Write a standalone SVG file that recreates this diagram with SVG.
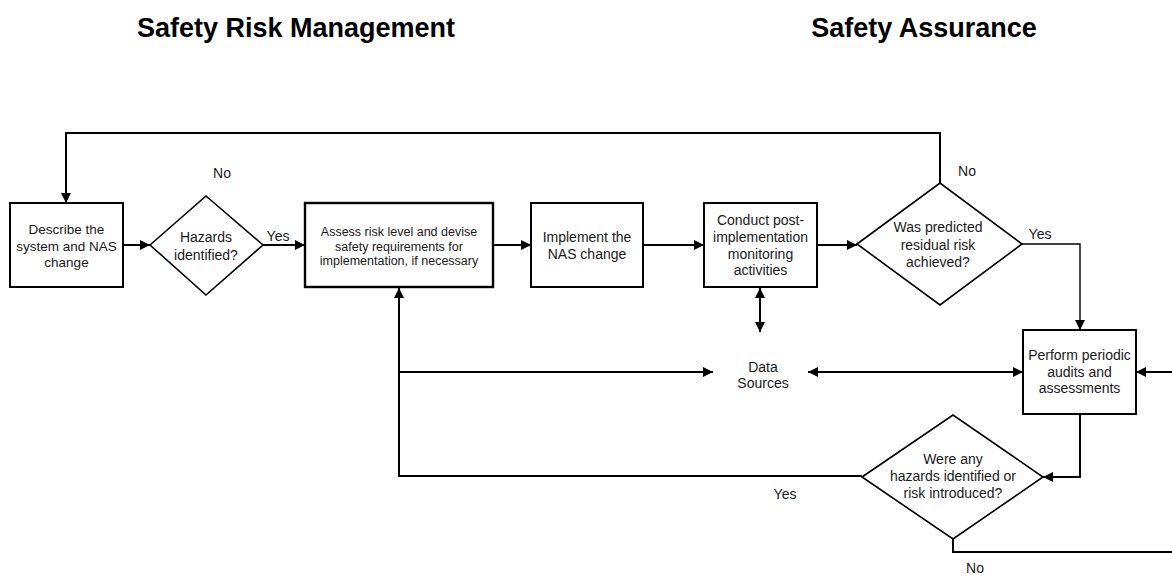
<svg xmlns="http://www.w3.org/2000/svg" width="1172" height="576" viewBox="0 0 1172 576">
<style>
.box{fill:#fff;stroke:#000;stroke-width:2}
.dia{fill:#fff;stroke:#000;stroke-width:1.6}
.ln{fill:none;stroke:#000;stroke-width:2}
.thin{fill:none;stroke:#000;stroke-width:1.4}
text{font-family:"Liberation Sans",Arial,sans-serif;font-size:14px;fill:#1a1a1a;text-anchor:middle}
.title{font-size:27px;font-weight:bold;fill:#000}
</style>
<defs>
<marker id="ah" viewBox="0 0 10 10" refX="10" refY="5" markerWidth="10" markerHeight="10" markerUnits="userSpaceOnUse" orient="auto-start-reverse">
<path d="M0,0 L10,5 L0,10 z" fill="#000"/>
</marker>
</defs>
<rect width="1172" height="576" fill="#fff"/>
<text class="title" x="296" y="37">Safety Risk Management</text>
<text class="title" x="924" y="37">Safety Assurance</text>

<g id="connectors">
<path class="ln" d="M940,183 V133 H66 V203" marker-end="url(#ah)"/>
<path class="ln" d="M123,245 H150" marker-end="url(#ah)"/>
<path class="ln" d="M263,245 H305" marker-end="url(#ah)"/>
<path class="ln" d="M493,245 H531" marker-end="url(#ah)"/>
<path class="ln" d="M643,245 H704" marker-end="url(#ah)"/>
<path class="ln" d="M817,245 H857" marker-end="url(#ah)"/>
<path class="thin" d="M1022,244 H1080 V330" marker-end="url(#ah)"/>
<path class="ln" d="M760,288 V332" marker-start="url(#ah)" marker-end="url(#ah)"/>
<path class="ln" d="M862,476 H399 V288" marker-end="url(#ah)"/>
<path class="ln" d="M399,372 H713" marker-end="url(#ah)"/>
<path class="ln" d="M808,372 H1023" marker-start="url(#ah)" marker-end="url(#ah)"/>
<path class="ln" d="M1172,372 H1136" marker-end="url(#ah)"/>
<path class="ln" d="M1080,414 V477 H1043" marker-end="url(#ah)"/>
<path class="ln" d="M953,539 V552 H1172"/>
</g>

<g id="describe">
<rect class="box" x="10" y="203" width="113" height="84"/>
<text x="66.5" style="font-size:13.5px"><tspan x="66.5" y="234">Describe the</tspan><tspan x="66.5" y="251">system and NAS</tspan><tspan x="66.5" y="267">change</tspan></text>
</g>
<g id="hazards">
<polygon class="dia" points="150,245 206,196 263,245 206,295"/>
<text><tspan x="206" y="242">Hazards</tspan><tspan x="206" y="260">identified?</tspan></text>
</g>
<g id="assess">
<rect class="box" x="305" y="203" width="188" height="84" style="stroke-width:2.4"/>
<text style="font-size:12.5px"><tspan x="399" y="236">Assess risk level and devise</tspan><tspan x="399" y="250.5">safety requirements for</tspan><tspan x="399" y="265">implementation, if necessary</tspan></text>
</g>
<g id="implement">
<rect class="box" x="531" y="203" width="112" height="84"/>
<text><tspan x="587" y="242">Implement the</tspan><tspan x="587" y="259">NAS change</tspan></text>
</g>
<g id="conduct">
<rect class="box" x="704" y="203" width="113" height="84"/>
<text><tspan x="760.5" y="225">Conduct post-</tspan><tspan x="760.5" y="242">implementation</tspan><tspan x="760.5" y="259">monitoring</tspan><tspan x="760.5" y="275">activities</tspan></text>
</g>
<g id="residual">
<polygon class="dia" points="857,244 940,183 1022,244 940,305"/>
<text><tspan x="938" y="232">Was predicted</tspan><tspan x="938" y="250">residual risk</tspan><tspan x="938" y="267">achieved?</tspan></text>
</g>
<g id="datasources">
<text><tspan x="763" y="372">Data</tspan><tspan x="763" y="388">Sources</tspan></text>
</g>
<g id="perform">
<rect class="box" x="1023" y="330" width="113" height="84"/>
<text><tspan x="1079.5" y="360">Perform periodic</tspan><tspan x="1079.5" y="377">audits and</tspan><tspan x="1079.5" y="393">assessments</tspan></text>
</g>
<g id="werehazards">
<polygon class="dia" points="862,477 953,415 1043,477 953,539"/>
<text><tspan x="953" y="464">Were any</tspan><tspan x="953" y="481">hazards identified or</tspan><tspan x="953" y="498">risk introduced?</tspan></text>
</g>

<g id="labels">
<text x="222" y="178">No</text>
<text x="278" y="241">Yes</text>
<text x="967" y="176">No</text>
<text x="1040" y="239">Yes</text>
<text x="785" y="499">Yes</text>
<text x="975" y="573">No</text>
</g>
</svg>
